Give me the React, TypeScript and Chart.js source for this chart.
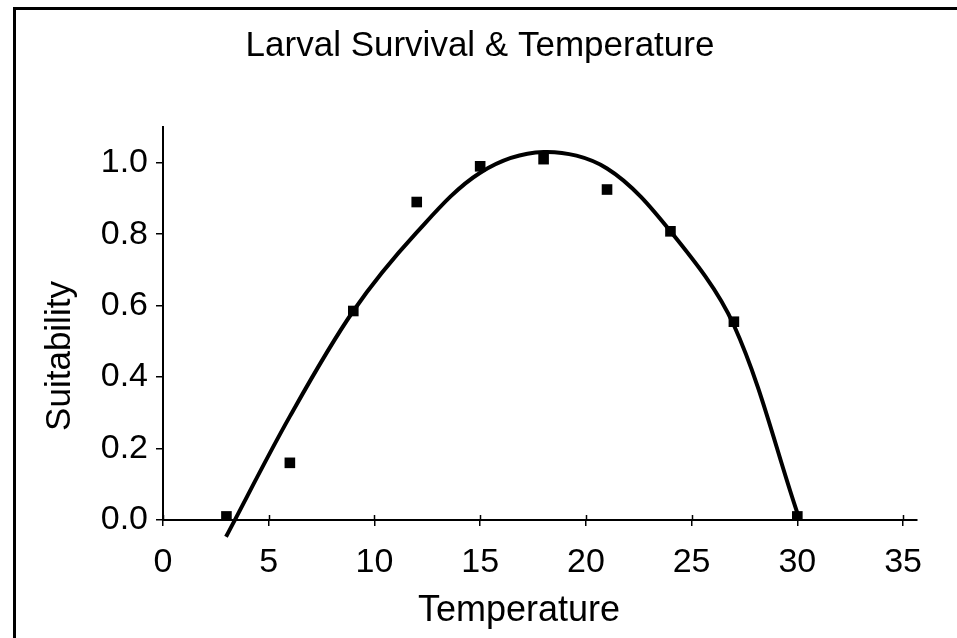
import React, { useEffect, useRef } from 'react';
import { Chart, registerables } from 'chart.js';

Chart.register(...registerables);

const chartTitle = 'Larval Survival & Temperature';
const xAxisTitle = 'Temperature';
const yAxisTitle = 'Suitability';

const obsTemperature = [3, 6, 9, 12, 15, 18, 21, 24, 27, 30];
const obsSuitability = [0.01, 0.16, 0.585, 0.89, 0.99, 1.01, 0.925, 0.808, 0.555, 0.01];

const fitTemperature = [2.98, 6, 9, 12, 15, 18, 21, 24, 27, 30];
const fitSuitability = [-0.047, 0.29, 0.585, 0.805, 0.972, 1.03, 0.984, 0.808, 0.545, 0.02];

const xTickValues = [0, 5, 10, 15, 20, 25, 30, 35];
const yTickValues = [0, 0.2, 0.4, 0.6, 0.8, 1.0];

const FONT = "'Liberation Sans', Arial, Helvetica, sans-serif";

const framePlugin = {
  id: 'frame',
  beforeDraw(chart: any) {
    const { ctx, width, height } = chart;
    ctx.save();
    ctx.fillStyle = '#ffffff';
    ctx.fillRect(0, 0, width, height);
    ctx.strokeStyle = '#000000';
    ctx.lineWidth = 3;
    ctx.beginPath();
    ctx.moveTo(13, 8.5);
    ctx.lineTo(width, 8.5);
    ctx.moveTo(14.5, 7);
    ctx.lineTo(14.5, height);
    ctx.stroke();
    ctx.restore();
  },
  afterDraw(chart: any) {
    const { ctx, chartArea } = chart;
    const xs = chart.scales.x;
    ctx.save();
    ctx.strokeStyle = '#000000';
    ctx.lineWidth = 1.5;
    ctx.beginPath();
    for (const v of xTickValues) {
      const px = Math.round(xs.getPixelForValue(v)) + 0.5;
      ctx.moveTo(px, chartArea.bottom - 5);
      ctx.lineTo(px, chartArea.bottom);
    }
    ctx.stroke();
    ctx.fillStyle = '#000000';
    ctx.textAlign = 'center';
    ctx.textBaseline = 'alphabetic';
    ctx.font = `35px ${FONT}`;
    ctx.fillText(chartTitle, 480, 56);
    ctx.font = `36px ${FONT}`;
    ctx.fillText(xAxisTitle, 519, 621);
    ctx.font = `35px ${FONT}`;
    ctx.translate(70, 356);
    ctx.rotate(-Math.PI / 2);
    ctx.fillText(yAxisTitle, 0, 0);
    ctx.restore();
  },
};

export default function App() {
  const ref = useRef<HTMLCanvasElement | null>(null);
  useEffect(() => {
    document.body.style.margin = '0';
    const canvas = ref.current;
    if (!canvas) return;
    const chart = new Chart(canvas, {
      type: 'scatter',
      data: {
        datasets: [
          {
            label: 'Observed',
            data: obsTemperature.map((x, i) => ({ x, y: obsSuitability[i] })),
            pointStyle: 'rect',
            pointRadius: 7.5,
            pointBorderWidth: 0,
            backgroundColor: '#000000',
            borderColor: '#000000',
            showLine: false,
            order: 0,
          },
          {
            label: 'Fit',
            data: fitTemperature.map((x, i) => ({ x, y: fitSuitability[i] })),
            showLine: true,
            borderColor: '#000000',
            borderWidth: 4,
            pointRadius: 0,
            tension: 0.34,
            clip: false,
            order: 1,
          } as any,
        ],
      },
      options: {
        animation: false,
        responsive: false,
        maintainAspectRatio: false,
        layout: { padding: { top: 127, right: 40, left: 0, bottom: 0 } },
        plugins: {
          legend: { display: false },
          title: { display: false },
          tooltip: { enabled: false },
        },
        scales: {
          x: {
            type: 'linear',
            min: 0,
            max: 35.66,
            afterFit: (s: any) => { s.height = 118; },
            afterBuildTicks: (s: any) => { s.ticks = xTickValues.map((v) => ({ value: v })); },
            border: { display: true, color: '#000000', width: 2 },
            grid: { drawOnChartArea: false, drawTicks: true, tickLength: 6, color: '#000000', lineWidth: 1.5 },
            ticks: {
              color: '#000000',
              font: { family: FONT, size: 34 },
              padding: 16,
              callback: (v: any) => String(v),
            },
          },
          y: {
            type: 'linear',
            min: 0,
            max: 1.1,
            afterFit: (s: any) => { s.width = 163; },
            afterBuildTicks: (s: any) => { s.ticks = yTickValues.map((v) => ({ value: v })); },
            border: { display: true, color: '#000000', width: 2 },
            grid: { drawOnChartArea: false, drawTicks: true, tickLength: 7, color: '#000000', lineWidth: 1.5 },
            ticks: {
              color: '#000000',
              font: { family: FONT, size: 34 },
              padding: 8,
              callback: (v: any) => Number(v).toFixed(1),
            },
          },
        },
      },
      plugins: [framePlugin],
    } as any);
    return () => chart.destroy();
  }, []);
  return (
    <div style={{ width: 957, height: 638, position: 'relative' }}>
      <canvas ref={ref} width={957} height={638} style={{ display: 'block', width: 957, height: 638 }} />
    </div>
  );
}
